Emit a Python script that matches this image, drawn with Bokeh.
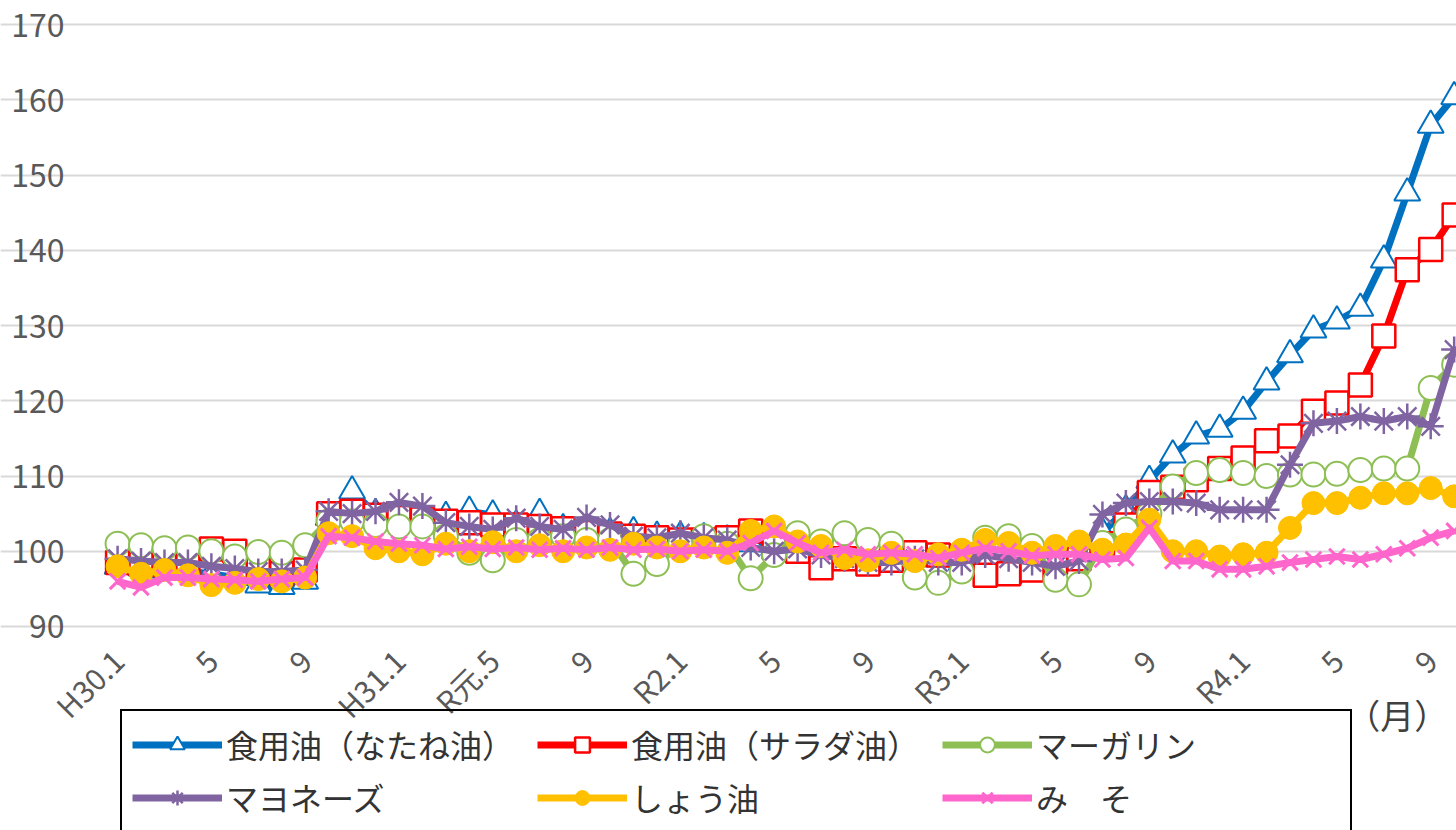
import math
from bokeh.plotting import figure
from bokeh.models import (Range1d, FixedTicker, Legend, LegendItem, Label,
                          LinearAxis, Grid)
from bokeh.embed import file_html
from bokeh.resources import INLINE

# ---- data (monthly index, H30.1 = Jan 2018 ... R4.10 = Oct 2022) ----
months = list(range(58))
tick_months = [0, 4, 8, 12, 16, 20, 24, 28, 32, 36, 40, 44, 48, 52, 56]
tick_labels = ["H30.1", "5", "9", "H31.1", "R元.5", "9", "R2.1", "5", "9",
               "R3.1", "5", "9", "R4.1", "5", "9"]
y_ticks = [90, 100, 110, 120, 130, 140, 150, 160, 170]

names = ["食用油（なたね油）", "食用油（サラダ油）", "マーガリン",
         "マヨネーズ", "しょう油", "み　そ"]

rapeseed_oil = [
    98.0, 97.8, 97.5, 97.3, 97.0, 96.5, 95.5, 95.3, 96.0,
    104.5, 108.0, 105.0, 104.5, 104.0, 104.6, 105.3, 104.8, 103.5, 105.0,
    103.0, 103.0, 102.5, 102.6, 102.0, 102.0, 101.8, 101.5, 101.0, 100.5,
    100.0, 99.5, 99.5, 99.0, 99.0, 99.0, 99.0, 98.5, 98.0, 96.7,
    98.0, 98.5, 99.5, 102.5, 105.5, 109.4, 112.8, 115.3, 116.2, 118.6,
    122.5, 126.1, 129.4, 130.6, 132.3, 138.7, 147.6, 156.6, 160.4]
salad_oil = [
    98.5, 98.3, 98.2, 98.0, 100.3, 100.0, 97.5, 97.0, 97.5,
    105.0, 105.3, 104.8, 104.5, 104.3, 104.0, 103.8, 103.5, 103.5, 103.3,
    103.0, 102.5, 102.3, 102.0, 101.8, 101.5, 101.5, 101.8, 102.7, 100.5,
    100.0, 97.8, 99.0, 98.3, 98.8, 99.8, 99.5, 99.0, 96.8, 97.0,
    97.5, 98.5, 99.0, 101.0, 103.5, 107.8, 108.5, 109.5, 111.0, 112.4,
    114.7, 115.3, 118.6, 119.7, 122.1, 128.6, 137.4, 140.1, 144.7]
margarine = [
    101.0, 100.8, 100.4, 100.5, 100.0, 99.3, 99.9, 99.8, 100.8,
    104.0, 104.0, 103.5, 103.3, 103.3, 102.0, 99.8, 98.8, 101.5, 101.5,
    102.0, 101.5, 101.5, 97.0, 98.3, 101.0, 102.0, 101.0, 96.4, 99.5,
    102.4, 101.3, 102.4, 101.5, 101.0, 96.5, 95.8, 97.3, 101.8, 102.0,
    100.7, 96.2, 95.6, 101.1, 102.9, 105.0, 108.6, 110.4, 110.8, 110.4,
    110.0, 110.2, 110.2, 110.3, 110.8, 111.0, 111.0, 121.7, 124.8]
mayonnaise = [
    99.0, 98.7, 98.5, 98.5, 98.0, 97.7, 97.3, 97.3, 97.5,
    105.3, 105.0, 105.3, 106.5, 106.0, 103.8, 103.3, 102.9, 104.4, 103.3,
    102.9, 104.5, 103.5, 102.0, 101.8, 102.4, 101.8, 101.5, 100.5, 100.0,
    100.3, 99.5, 99.0, 98.5, 98.5, 99.0, 98.5, 98.5, 99.5, 99.0,
    98.5, 98.0, 98.7, 104.9, 106.4, 106.6, 106.6, 106.4, 105.5, 105.5,
    105.5, 111.5, 117.0, 117.3, 117.9, 117.3, 117.9, 116.6, 126.8]
soy_sauce = [
    98.0, 97.0, 97.5, 96.8, 95.5, 95.8, 96.3, 96.0, 96.5,
    102.4, 102.0, 100.4, 100.0, 99.6, 101.0, 100.0, 101.2, 100.0, 100.8,
    100.0, 100.5, 100.2, 101.0, 100.5, 100.0, 100.5, 99.8, 102.7, 103.3,
    101.3, 100.7, 99.1, 98.8, 99.8, 98.7, 99.6, 100.2, 101.5, 101.1,
    99.8, 100.7, 101.3, 100.2, 100.9, 104.2, 100.0, 100.0, 99.3, 99.6,
    99.8, 103.1, 106.4, 106.4, 107.1, 107.7, 107.7, 108.4, 107.3]
miso = [
    96.0, 95.2, 96.5, 96.5, 96.3, 96.2, 96.0, 96.3, 96.5,
    102.0, 101.8, 101.3, 101.0, 100.8, 100.3, 100.6, 100.3, 100.5, 100.2,
    100.4, 100.2, 100.5, 100.2, 100.3, 100.0, 100.2, 100.0, 101.1, 102.7,
    101.1, 99.8, 100.2, 99.6, 99.8, 99.6, 99.1, 99.8, 100.4, 100.0,
    99.4, 99.6, 99.6, 98.9, 99.1, 103.1, 98.7, 98.7, 97.6, 97.6,
    98.0, 98.5, 98.9, 99.3, 98.9, 99.6, 100.4, 101.8, 102.7]

series = [rapeseed_oil, salad_oil, margarine, mayonnaise, soy_sauce, miso]

# ---- styles ----
styles = [
    dict(color="#0070C0", marker="triangle", size=26, fill="white", lw=2),
    dict(color="#FF0000", marker="square", size=23, fill="white", lw=2.5),
    dict(color="#8DBF55", marker="circle", size=24, fill="white", lw=2),
    dict(color="#8064A2", marker="asterisk", size=26, fill="#8064A2", lw=2.5),
    dict(color="#FFC000", marker="circle", size=23, fill="#FFC000", lw=1),
    dict(color="#FF66CC", marker="x", size=22, fill="#FF66CC", lw=3),
]

FONT = "Noto Sans CJK JP"
X_START, X_END = -0.43, 57.1   # extent of the plotting area (gridlines)

# The frame covers the whole canvas so that the rotated tick labels, the
# top tick label and the legend below the 90 line are not clipped; both
# axes are pinned in place.
p = figure(width=1456, height=830,
           x_range=Range1d(-4.993, X_END), y_range=Range1d(62.89, 173.19),
           output_backend="svg", toolbar_location=None,
           x_axis_location=None, y_axis_location=None,
           min_border_left=0, min_border_right=0,
           min_border_top=0, min_border_bottom=0)

p.outline_line_color = None
p.background_fill_color = "white"
p.border_fill_color = "white"
for g in p.grid:
    g.visible = False

ygrid = Grid(dimension=1, ticker=FixedTicker(ticks=y_ticks),
             bounds=(X_START, X_END),
             grid_line_color="#D9D9D9", grid_line_width=2)
p.add_layout(ygrid, "center")

xaxis = LinearAxis(fixed_location=90,
                   ticker=FixedTicker(ticks=tick_months),
                   major_label_overrides={m: lab for m, lab in zip(tick_months, tick_labels)},
                   major_label_orientation=math.pi / 4)
yaxis = LinearAxis(fixed_location=X_START,
                   ticker=FixedTicker(ticks=y_ticks))
p.add_layout(xaxis, "below")
p.add_layout(yaxis, "left")

for ax in (xaxis, yaxis):
    ax.axis_line_color = None
    ax.major_tick_line_color = None
    ax.minor_tick_line_color = None
    ax.major_label_text_color = "#595959"
    ax.major_label_text_font = FONT
yaxis.major_label_text_font_size = "32px"
yaxis.major_label_standoff = 37
xaxis.major_label_text_font_size = "30px"
xaxis.major_label_standoff = 22

items = []
for name, vals, st in zip(names, series, styles):
    ln = p.line(months, vals, line_color=st["color"], line_width=7,
                line_join="round")
    sc = p.scatter(months, vals, marker=st["marker"], size=st["size"],
                   line_color=st["color"], fill_color=st["fill"],
                   line_width=st["lw"])
    items.append(LegendItem(label=name, renderers=[ln, sc]))

legend = Legend(items=items, location=(120, -2), orientation="horizontal",
                ncols=3)
legend.glyph_width = 90
legend.glyph_height = 37
legend.label_height = 37
legend.label_width = 304
legend.label_standoff = 4
legend.spacing = 7
legend.padding = 10
legend.margin = 0
legend.border_line_color = "black"
legend.border_line_width = 2
legend.border_line_alpha = 1
legend.background_fill_alpha = 0
legend.label_text_font = FONT
legend.label_text_font_size = "32px"
legend.label_text_color = "#333333"
p.add_layout(legend, "center")

month_unit = Label(x=52.4, y=81.6, text="（月）", text_font=FONT,
                   text_font_size="34px", text_color="#404040",
                   text_baseline="top", text_align="left")
p.add_layout(month_unit)

open("out.html", "w").write(file_html(p, INLINE))
